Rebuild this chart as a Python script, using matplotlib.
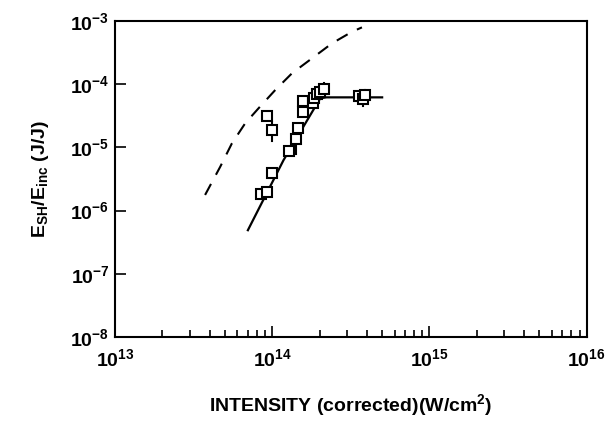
import numpy as np
import matplotlib.pyplot as plt
from matplotlib.ticker import LogLocator, NullFormatter

plt.rcParams['font.family'] = ['Liberation Sans', 'DejaVu Sans']
plt.rcParams['mathtext.fontset'] = 'custom'
plt.rcParams['mathtext.rm'] = 'Liberation Sans:bold'
plt.rcParams['mathtext.it'] = 'Liberation Sans:bold'
plt.rcParams['mathtext.bf'] = 'Liberation Sans:bold'

# measured points (intensity W/cm^2, conversion efficiency J/J)
intensity = [8.5e13, 9.2e13, 9.9e13, 9.3e13, 1.0e14, 1.27e14, 1.42e14, 1.46e14,
             1.58e14, 1.58e14, 1.81e14, 1.85e14, 1.93e14, 2.0e14, 2.12e14,
             3.55e14, 3.8e14, 3.9e14]
efficiency = [1.83e-6, 2.0e-6, 4.0e-6, 3.1e-5, 1.9e-5, 8.9e-6, 1.35e-5, 2.0e-5,
              3.7e-5, 5.4e-5, 5.0e-5, 6.0e-5, 6.9e-5, 7.6e-5, 8.3e-5,
              6.5e-5, 5.8e-5, 6.8e-5]
# error bars only on a few points: (index, low, high)
err_bars = [(4, 1.25e-5, 2.5e-5), (6, 7.9e-6, 1.7e-5), (14, 8.3e-5, 1.05e-4),
            (15, 5.6e-5, 7.6e-5), (16, 4.6e-5, 6.6e-5), (17, 5.3e-5, 8.0e-5)]

# solid fit line
fit_x = [7.0e13, 1.18e14, 2.02e14, 2.21e14, 5.0e14]
fit_y = [4.9e-7, 6.3e-6, 6.0e-5, 6.2e-5, 6.2e-5]

# dashed theory curve
theory_x = [3.74e13, 4.67e13, 5.54e13, 6.73e13, 8.18e13, 1.045e14, 1.335e14,
            1.79e14, 2.4e14, 3.22e14, 3.72e14]
theory_y = [1.77e-6, 4.95e-6, 1.16e-5, 2.41e-5, 4.16e-5, 8.1e-5, 1.49e-4,
            2.57e-4, 4.44e-4, 6.78e-4, 7.94e-4]

fig = plt.figure(figsize=(6.15, 4.34), dpi=100)
ax = fig.add_axes([0.187, 0.2235, 0.767, 0.728])

ax.plot(theory_x, theory_y, color='black', lw=1.5, ls=(0, (6, 5)))
ax.plot(fit_x, fit_y, color='black', lw=1.6)
for i, lo, hi in err_bars:
    ax.plot([intensity[i], intensity[i]], [lo, hi], color='black', lw=1.5)
ax.plot(intensity, efficiency, ls='none', marker='s', ms=7, mfc='white',
        mec='black', mew=1.5)

ax.set_xscale('log')
ax.set_yscale('log')
ax.set_xlim(1e13, 1e16)
ax.set_ylim(1e-8, 1e-3)

ax.xaxis.set_major_locator(LogLocator(base=10, numticks=10))
ax.xaxis.set_minor_locator(LogLocator(base=10, subs=np.arange(2, 10), numticks=20))
ax.xaxis.set_minor_formatter(NullFormatter())
ax.yaxis.set_minor_locator(plt.NullLocator())
ax.tick_params(axis='both', which='major', direction='in', length=8, width=1.2,
               labelsize=14, pad=8)
ax.tick_params(axis='x', which='minor', direction='in', length=5, width=1.2)
ax.tick_params(axis='y', which='major', pad=4)
for lab in ax.get_xticklabels() + ax.get_yticklabels():
    lab.set_fontweight('bold')
for s in ax.spines.values():
    s.set_linewidth(1.5)

ax.set_xlabel('INTENSITY (corrected)(W/cm$^2$)', fontsize=14, fontweight='bold',
              labelpad=16)
ax.set_ylabel('E$_{SH}$/E$_{inc}$ (J/J)', fontsize=14, fontweight='bold', labelpad=14)

fig.savefig('out.png', dpi=100)
